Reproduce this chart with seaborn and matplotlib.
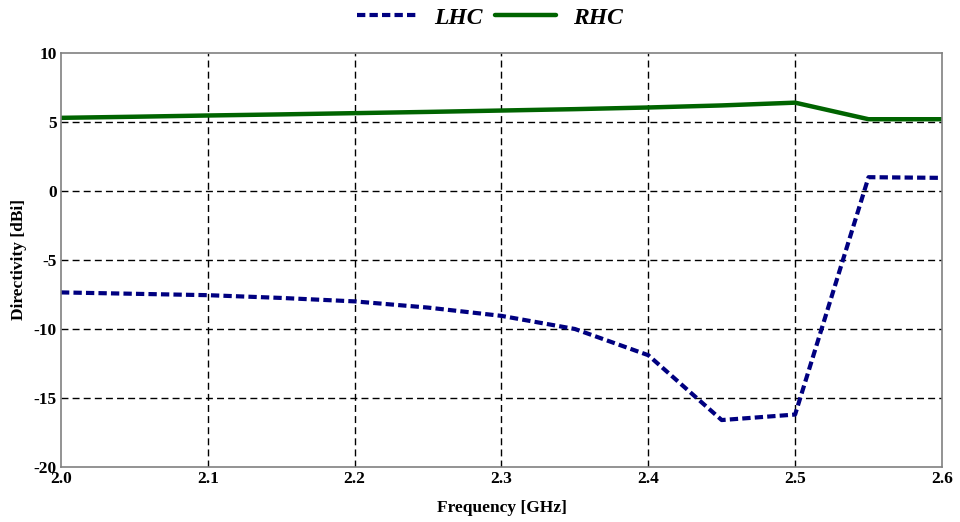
import matplotlib
matplotlib.use("Agg")
import matplotlib.pyplot as plt
import seaborn as sns
import pandas as pd
from matplotlib.lines import Line2D

freq = [2.0, 2.05, 2.1, 2.15, 2.2, 2.25, 2.3, 2.35, 2.4, 2.45, 2.5, 2.55, 2.6]
lhc = [-7.35, -7.45, -7.55, -7.75, -8.0, -8.45, -9.05, -10.0, -11.9, -16.6, -16.2, 1.0, 0.95]
rhc = [5.3, 5.38, 5.47, 5.55, 5.64, 5.73, 5.83, 5.93, 6.05, 6.2, 6.4, 5.2, 5.2]
x_ticks = [2.0, 2.1, 2.2, 2.3, 2.4, 2.5, 2.6]
y_ticks = [-20, -15, -10, -5, 0, 5, 10]

sns.set_theme(style="white")
plt.rcParams["font.family"] = ["Liberation Serif", "DejaVu Serif"]
plt.rcParams["text.color"] = "black"
plt.rcParams["axes.labelcolor"] = "black"
plt.rcParams["xtick.color"] = "black"
plt.rcParams["ytick.color"] = "black"

df = pd.DataFrame({"Frequency": freq * 2,
                   "Directivity": lhc + rhc,
                   "Series": ["LHC"] * len(freq) + ["RHC"] * len(freq)})

fig = plt.figure(figsize=(9.6, 5.22), dpi=100)
ax = fig.add_axes([0.0635, 0.1054, 0.9177, 0.7931])

sns.lineplot(data=df, x="Frequency", y="Directivity", hue="Series", style="Series",
             palette={"LHC": "#000080", "RHC": "#006400"},
             dashes={"LHC": (2, 1), "RHC": ""}, ax=ax, legend=False)
for line, lw in zip(ax.lines, [3.0, 3.2]):
    line.set_linewidth(lw)

ax.set_xlim(2.0, 2.6)
ax.set_ylim(-20, 10)
ax.set_xticks(x_ticks)
ax.set_xticklabels([f"{v:.1f}" for v in x_ticks])
ax.set_yticks(y_ticks)
ax.set_yticklabels([str(v) for v in y_ticks])
ax.tick_params(axis="x", length=0, labelsize=12.5, pad=3)
ax.tick_params(axis="y", length=0, labelsize=12.5, pad=3)
for lab in ax.get_xticklabels() + ax.get_yticklabels():
    lab.set_fontweight("bold")

# internal grid only
for xv in x_ticks[1:-1]:
    ax.axvline(xv, color="black", lw=1.0, ls=(0, (5, 3)), zorder=0.5)
for yv in y_ticks[1:-1]:
    ax.axhline(yv, color="black", lw=1.0, ls=(0, (5, 3)), zorder=0.5)

for s in ax.spines.values():
    s.set_color("#808080")
    s.set_linewidth(1.2)

ax.set_xlabel("Frequency [GHz]", fontsize=12.5, fontweight="bold", labelpad=9)
ax.set_ylabel("Directivity [dBi]", fontsize=12.5, fontweight="bold", labelpad=5)

handles = [Line2D([], [], color="#000080", lw=3.0, ls=(0, (2, 1))),
           Line2D([], [], color="#006400", lw=3.2)]
fig.legend(handles, ["LHC", "RHC"], loc="center", bbox_to_anchor=(0.51, 0.966),
           ncol=2, frameon=False, handlelength=2.6, handletextpad=0.7, columnspacing=0.5,
           prop={"size": 17, "weight": "bold", "style": "italic"})

fig.savefig("out.png", dpi=100)
